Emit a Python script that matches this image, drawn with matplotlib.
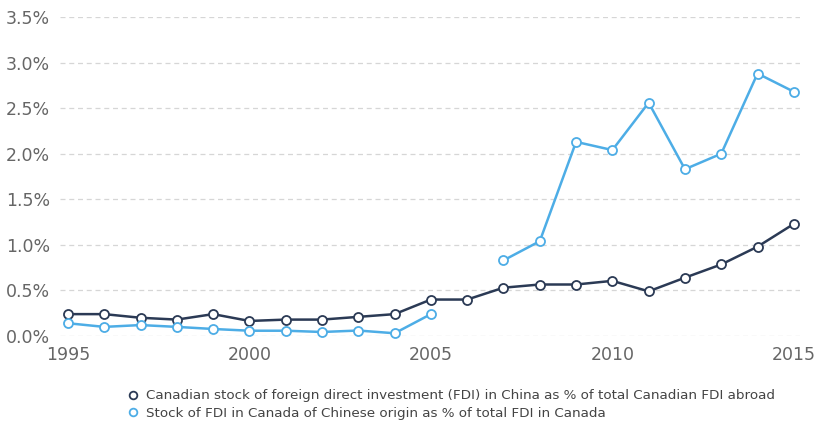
import numpy as np
import matplotlib.pyplot as plt
from matplotlib.ticker import FuncFormatter

years = list(range(1995, 2016))

# Canadian FDI in China as % of total Canadian FDI abroad
canada_in_china = [0.24, 0.24, 0.20, 0.18, 0.24, 0.165, 0.18, 0.18, 0.21, 0.24,
                   0.40, 0.40, 0.53, 0.565, 0.565, 0.605, 0.49, 0.64, 0.785, 0.98, 1.23]

# Chinese FDI in Canada as % of total FDI in Canada (no value for 2006)
china_in_canada = [0.14, 0.10, 0.12, 0.10, 0.077, 0.058, 0.058, 0.044, 0.06, 0.03,
                   0.24, np.nan, 0.83, 1.04, 2.13, 2.04, 2.56, 1.83, 2.00, 2.88, 2.68]

labels = [
    "Canadian stock of foreign direct investment (FDI) in China as % of total Canadian FDI abroad",
    "Stock of FDI in Canada of Chinese origin as % of total FDI in Canada",
]

dark = "#2b3a55"
light = "#4dade6"

fig = plt.figure(figsize=(8.16, 4.25), dpi=100)
ax = fig.add_axes([60 / 816, 1 - 336 / 425, 740 / 816, 319 / 425])

for vals, col, lab in [(canada_in_china, dark, labels[0]), (china_in_canada, light, labels[1])]:
    ax.plot(years, vals, color=col, lw=1.8, marker="o", markersize=6.5,
            markerfacecolor="white", markeredgecolor=col, markeredgewidth=1.3,
            clip_on=False, zorder=3, label=lab)

ax.set_xlim(1994.78, 2015.17)
ax.set_ylim(0, 3.5)
ax.set_xticks([1995, 2000, 2005, 2010, 2015])
ax.set_yticks(np.arange(0, 3.51, 0.5))
ax.yaxis.set_major_formatter(FuncFormatter(lambda v, p: f"{v:.1f}%"))

ax.grid(axis="y", linestyle=(0, (4, 3)), color="#d6d6d6", lw=0.9)
ax.set_axisbelow(True)
for s in ax.spines.values():
    s.set_visible(False)
ax.tick_params(length=0, labelsize=12.5, colors="#666666")
ax.tick_params(axis="y", pad=7)
ax.tick_params(axis="x", pad=7)

handles, labs = ax.get_legend_handles_labels()
leg = fig.legend(handles, labs, loc="upper left", bbox_to_anchor=(124 / 816, 1 - 384 / 425),
                 frameon=False, fontsize=9.7, handlelength=0.5, handletextpad=0.7,
                 labelspacing=0.35, borderaxespad=0, markerscale=0.85)
for h in leg.legend_handles:
    h.set_linestyle("None")
for t in leg.get_texts():
    t.set_color("#444444")

plt.savefig("out.png", dpi=100)
